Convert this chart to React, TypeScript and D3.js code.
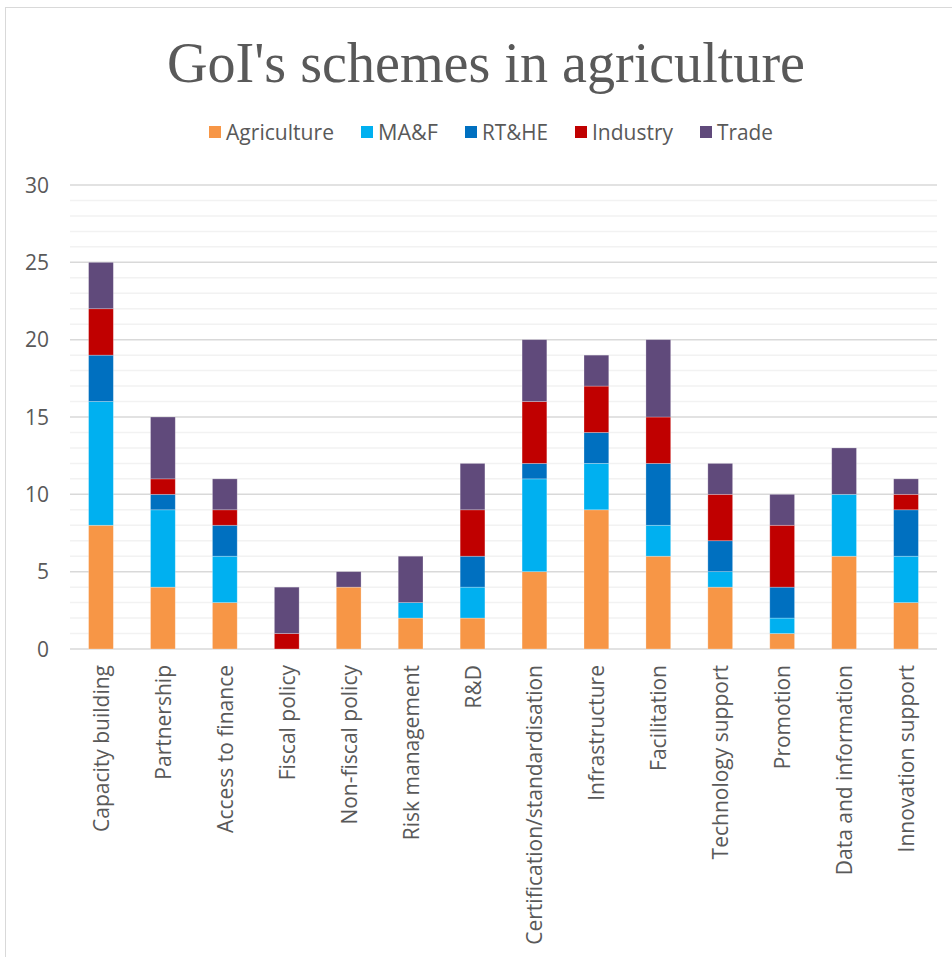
import React from "react";
import * as d3 from "d3";

const categories = [
  "Capacity building", "Partnership", "Access to finance", "Fiscal policy",
  "Non-fiscal policy", "Risk management", "R&D", "Certification/standardisation",
  "Infrastructure", "Facilitation", "Technology support", "Promotion",
  "Data and information", "Innovation support",
];
const seriesNames = ["Agriculture", "MA&F", "RT&HE", "Industry", "Trade"];
const agriculture = [8, 4, 3, 0, 4, 2, 2, 5, 9, 6, 4, 1, 6, 3];
const maf =         [8, 5, 3, 0, 0, 1, 2, 6, 3, 2, 1, 1, 4, 3];
const rthe =        [3, 1, 2, 0, 0, 0, 2, 1, 2, 4, 2, 2, 0, 3];
const industry =    [3, 1, 1, 1, 0, 0, 3, 4, 3, 3, 3, 4, 0, 1];
const trade =       [3, 4, 2, 3, 1, 3, 3, 4, 2, 5, 2, 2, 3, 1];
const colors = ["#F79646", "#00B0F0", "#0070C0", "#C00000", "#604A7B"];
const yTicks = [0, 5, 10, 15, 20, 25, 30];

const W = 952, H = 957;
const left = 70, right = 937, top = 185, bottom = 649;
const font = "'Open Sans', sans-serif";

export default function App() {
  const rows = categories.map((c, i) => ({
    cat: c,
    Agriculture: agriculture[i], "MA&F": maf[i], "RT&HE": rthe[i], Industry: industry[i], Trade: trade[i],
  }));
  const stack = d3.stack<any>().keys(seriesNames)(rows);
  const x = d3.scaleBand().domain(categories).range([left, right]).paddingInner(0.6).paddingOuter(0.3);
  const y = d3.scaleLinear().domain([0, 30]).range([bottom, top]);
  const minor = d3.range(0, 31, 1);
  const legendX = [209, 361, 465, 575, 700];
  const legendW = [108, 60, 66, 81, 56];
  return (
    <svg width={W} height={H} style={{ position: "absolute", left: 0, top: 0, background: "#fff" }}>
      <rect x={5.5} y={7.5} width={W + 10} height={H + 10} fill="#fff" stroke="#d9d9d9" strokeWidth={1} />
      <text x={167} y={82} textLength={638} lengthAdjust="spacingAndGlyphs"
        fontFamily="'Liberation Serif', serif" fontSize={58} fill="#595959">GoI's schemes in agriculture</text>
      {seriesNames.map((s, i) => (
        <g key={s}>
          <rect x={legendX[i]} y={126} width={12} height={12} fill={colors[i]} />
          <text x={legendX[i] + 17} y={140} textLength={legendW[i]} lengthAdjust="spacingAndGlyphs"
            fontFamily={font} fontSize={21} fill="#595959">{s}</text>
        </g>
      ))}
      {minor.filter(v => v % 5 !== 0).map(v => (
        <line key={"m" + v} x1={left} x2={right} y1={y(v)} y2={y(v)} stroke="#f2f2f2" strokeWidth={1.5} />
      ))}
      {yTicks.map(v => (
        <g key={"t" + v}>
          <line x1={left} x2={right} y1={y(v)} y2={y(v)} stroke="#d9d9d9" strokeWidth={1.5} />
          <text x={49} y={y(v) + 7.5} textAnchor="end" fontFamily={font} fontSize={21} fill="#595959">{v}</text>
        </g>
      ))}
      {stack.map((layer, si) => (
        <g key={layer.key} fill={colors[si]}>
          {layer.map((d, i) => d[1] - d[0] > 0 ? (
            <rect key={i} x={x(categories[i])} width={x.bandwidth()} y={y(d[1])} height={y(d[0]) - y(d[1])}
              stroke="#ffffff" strokeOpacity={0.35} strokeWidth={0.75} />
          ) : null)}
        </g>
      ))}
      {categories.map(c => {
        const cx = (x(c) as number) + x.bandwidth() / 2;
        return (
          <text key={c} transform={`translate(${cx + 8},665) rotate(-90)`} textAnchor="end"
            fontFamily={font} fontSize={21} fill="#595959">{c}</text>
        );
      })}
    </svg>
  );
}
